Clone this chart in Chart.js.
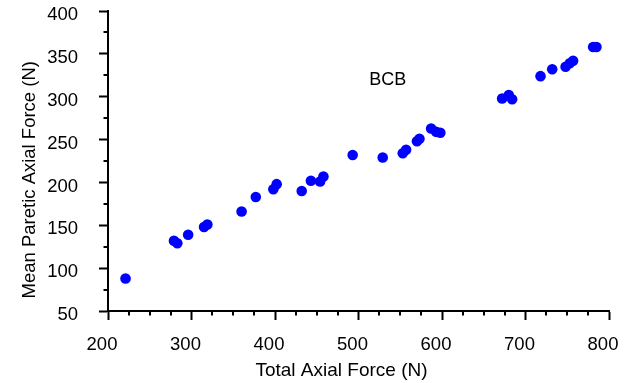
<!DOCTYPE html>
<html>
<head>
<meta charset="utf-8">
<script src="https://cdn.jsdelivr.net/npm/chart.js@4/dist/chart.umd.min.js"></script>
<style>
html,body{margin:0;padding:0;background:#fff;}
#wrap{width:635px;height:383px;position:relative;}
</style>
</head>
<body>
<div id="wrap"><canvas id="c" width="635" height="383"></canvas></div>
<script>
// ---- data ----
const totalAxialForce = [221,279,283,296,315,319,360,377,398,402,432,443,454,458,493,529,553,557,570,573,587,593,598,672,680,684,718,732,748,753,757,781,785];
const meanPareticForce = [88,132,129,139,148,151,166,183,192,198,190,202,201,207,232,229,234,238,248,251,263,259,258,298,302,297,324,332,335,339,342,358,358];
const xTickValues = [200,300,400,500,600,700,800];
const yTickValues = [50,100,150,200,250,300,350,400];
const xMinorStep = 25;
const yMinorStep = 25;
const xTitle = 'Total Axial Force (N)';
const yTitle = 'Mean Paretic Axial Force (N)';
const groupLabel = 'BCB';
const groupLabelPos = {x: 535, y: 314};

const FONT = "'Liberation Sans', Arial, Helvetica, sans-serif";
Chart.defaults.font.family = FONT;
Chart.defaults.font.size = 18;
Chart.defaults.color = '#000';

const extras = {
  id: 'extras',
  afterDraw(chart) {
    const {ctx, scales: {x, y}, chartArea: a} = chart;
    ctx.save();
    ctx.strokeStyle = '#000';
    ctx.lineWidth = 2;
    for (let v = x.min; v <= x.max; v += xMinorStep) {
      if (xTickValues.includes(v)) continue;
      const px = Math.round(x.getPixelForValue(v));
      ctx.beginPath(); ctx.moveTo(px, a.bottom); ctx.lineTo(px, a.bottom + 4.5); ctx.stroke();
    }
    for (let v = y.min; v <= y.max; v += yMinorStep) {
      if (yTickValues.includes(v)) continue;
      const py = Math.round(y.getPixelForValue(v));
      ctx.beginPath(); ctx.moveTo(a.left, py); ctx.lineTo(a.left - 4.5, py); ctx.stroke();
    }
    ctx.fillStyle = '#000';
    // x title
    ctx.font = '19px ' + FONT;
    ctx.textAlign = 'center';
    ctx.textBaseline = 'alphabetic';
    ctx.fillText(xTitle, 341.5, 376);
    // y title
    ctx.font = '18.5px ' + FONT;
    ctx.save();
    ctx.translate(35, 298.5);
    ctx.rotate(-Math.PI / 2);
    ctx.textAlign = 'left';
    ctx.fillText(yTitle, 0, 0);
    ctx.restore();
    // group label
    ctx.font = '18px ' + FONT;
    ctx.textAlign = 'center';
    ctx.fillText(groupLabel, x.getPixelForValue(groupLabelPos.x), y.getPixelForValue(groupLabelPos.y));
    ctx.restore();
  }
};

new Chart(document.getElementById('c'), {
  type: 'scatter',
  data: {
    datasets: [{
      data: totalAxialForce.map((v, i) => ({x: v, y: meanPareticForce[i]})),
      backgroundColor: '#0000ff',
      borderColor: '#0000ff',
      borderWidth: 0,
      pointRadius: 5.3,
      pointHoverRadius: 5.3
    }]
  },
  options: {
    responsive: false,
    animation: false,
    events: [],
    layout: {padding: {top: 11, right: 26, bottom: 0, left: 0}},
    plugins: {legend: {display: false}, tooltip: {enabled: false}},
    scales: {
      x: {
        type: 'linear', min: 200, max: 800,
        afterBuildTicks: s => { s.ticks = xTickValues.map(v => ({value: v})); },
        afterFit: s => { s.height = 72; s.paddingLeft = 0; s.paddingRight = 0; },
        grid: {drawOnChartArea: false, drawTicks: true, tickLength: 9, tickWidth: 2, tickColor: '#000'},
        border: {display: true, color: '#000', width: 2},
        ticks: {padding: 14, labelOffset: -6, maxRotation: 0, autoSkip: false, color: '#000', font: {size: 18.5}}
      },
      y: {
        type: 'linear', min: 50, max: 400,
        afterBuildTicks: s => { s.ticks = yTickValues.map(v => ({value: v})); },
        afterFit: s => { s.width = 108; s.paddingTop = 0; s.paddingBottom = 0; },
        grid: {drawOnChartArea: false, drawTicks: true, tickLength: 9, tickWidth: 2, tickColor: '#000'},
        border: {display: true, color: '#000', width: 2},
        ticks: {padding: 21, labelOffset: 4, autoSkip: false, color: '#000', font: {size: 18.5}}
      }
    }
  },
  plugins: [extras]
});
</script>
</body>
</html>
